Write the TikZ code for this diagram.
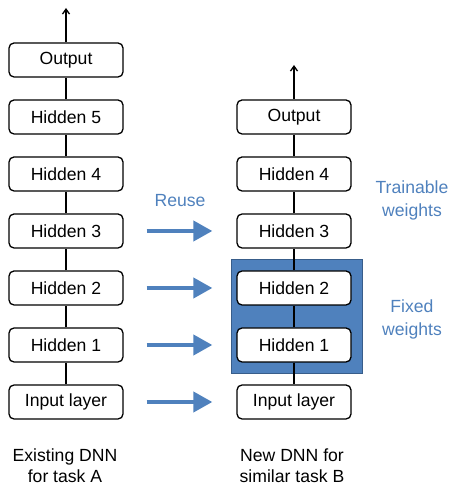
\documentclass[tikz,border=0pt]{standalone}
\usepackage{fontspec}
\setmainfont{Liberation Sans}
\usetikzlibrary{arrows.meta}
\definecolor{officeblue}{RGB}{79,129,189}
\definecolor{officeedge}{RGB}{56,93,138}
\tikzset{
  layer/.style={draw,line width=1.3pt,rounded corners=5pt,fill=white,
    minimum width=114pt,minimum height=34pt,inner sep=0pt,font=\fontsize{17.6}{20}\selectfont},
  reuse/.style={draw=officeblue,line width=4pt,-{Triangle[length=19pt,width=20pt]},
    shorten <=23pt,shorten >=24pt},
  note/.style={text=officeblue,align=center,font=\fontsize{17.6}{23}\selectfont}
}
\begin{document}
\begin{tikzpicture}[x=1pt,y=1pt]
\useasboundingbox (0,0) rectangle (461,500);
\fill[officeblue,draw=officeedge,line width=0.8pt] (231,241) rectangle (362,127);
% existing DNN
\node[layer] (A0) at (66,98) {Input layer};
\node[layer] (A1) at (66,155) {Hidden 1};
\node[layer] (A2) at (66,212) {Hidden 2};
\node[layer] (A3) at (66,269) {Hidden 3};
\node[layer] (A4) at (66,326) {Hidden 4};
\node[layer] (A5) at (66,383) {Hidden 5};
\node[layer] (A6) at (66,440) {Output};
\coordinate (Atop) at (66,492);
% new DNN
\node[layer] (B0) at (294,98) {Input layer};
\node[layer] (B1) at (294,155) {Hidden 1};
\node[layer] (B2) at (294,212) {Hidden 2};
\node[layer] (B3) at (294,269) {Hidden 3};
\node[layer] (B4) at (294,326) {Hidden 4};
\node[layer] (B5) at (294,383) {Output};
\coordinate (Btop) at (294,435);
\foreach \i/\j in {0/1,1/2,2/3,3/4,4/5,5/6}
  \draw[line width=1.3pt] (A\i) -- (A\j);
\foreach \i/\j in {0/1,1/2,2/3,3/4,4/5}
  \draw[line width=1.3pt] (B\i) -- (B\j);
\draw[line width=1.3pt,-{Straight Barb[length=5pt,width=7pt]}] (A6) -- (Atop);
\draw[line width=1.3pt,-{Straight Barb[length=5pt,width=7pt]}] (B5) -- (Btop);
% reuse arrows
\foreach \i in {0,1,2,3}
  \draw[reuse] (A\i) -- (B\i);
\node[note] (reuselbl) at (180,299) {Reuse};
\node[note] (trainlbl) at (412,300) {Trainable\\weights};
\node[note] (fixedlbl) at (412,181) {Fixed\\weights};
\node[align=center,font=\fontsize{17.6}{21}\selectfont] (capA) at (65,34) {Existing DNN\\for task A};
\node[align=center,font=\fontsize{17.6}{21}\selectfont] (capB) at (292,34) {New DNN for\\similar task B};
\end{tikzpicture}
\end{document}
